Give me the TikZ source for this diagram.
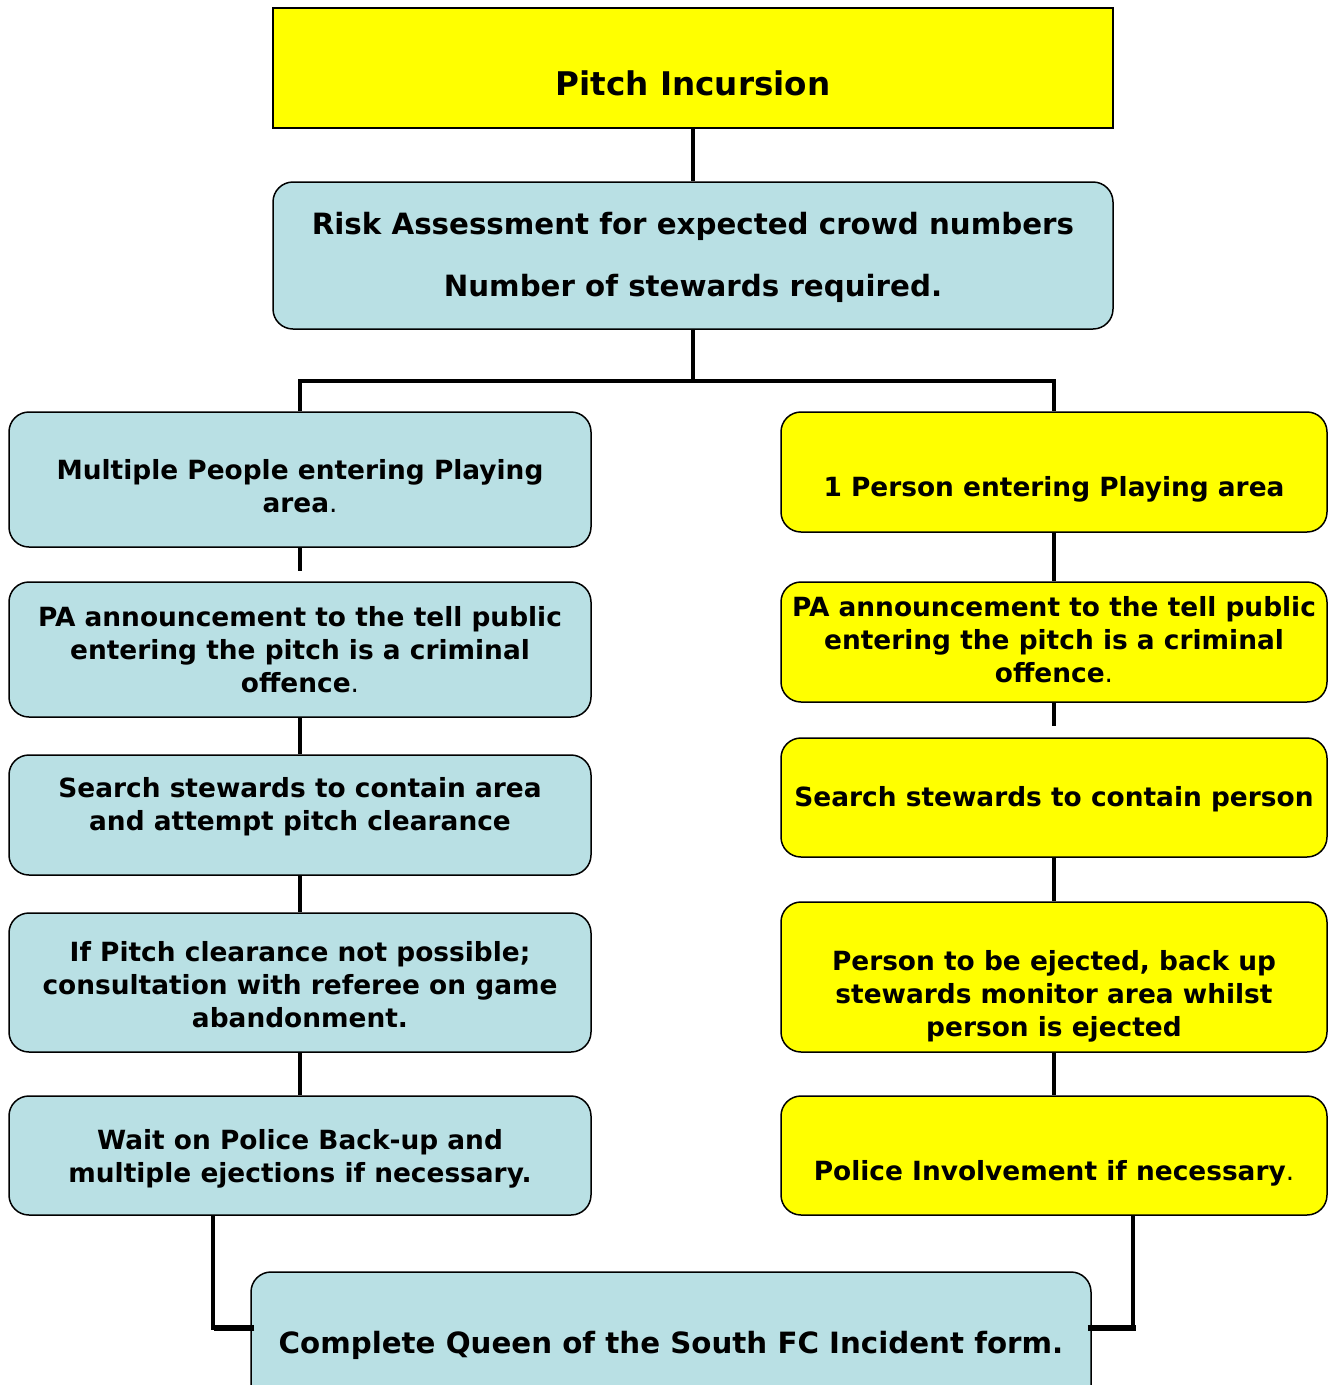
\documentclass[tikz,border=0pt]{standalone}
\usepackage{fontspec}
\setmainfont{DejaVu Sans}
\usetikzlibrary{calc}
\definecolor{paleblue}{RGB}{185,224,228}
\definecolor{brightyellow}{RGB}{255,255,0}
\tikzset{
  box/.style={draw=black, line width=1.5pt, rounded corners=20pt, inner sep=0pt},
  bluebox/.style={box, fill=paleblue},
  yellowbox/.style={box, fill=brightyellow},
  colbox/.style={minimum width=582pt},
  rcolbox/.style={minimum width=546pt},
  txt/.style={align=center, inner sep=0pt, font=\fontsize{26.4}{33}\selectfont\bfseries},
  bigtxt/.style={txt, font=\fontsize{29.3}{33}\selectfont\bfseries},
  titletxt/.style={txt, font=\fontsize{32.6}{38}\selectfont\bfseries},
  link/.style={draw=black, line width=4.5pt},
}
\newcommand{\dotn}{{\mdseries.}}
\begin{document}
\begin{tikzpicture}[x=1pt,y=-1pt]
\useasboundingbox (0,0) rectangle (1342,1385);

% header and risk assessment
\node[box, rounded corners=0pt, fill=brightyellow, minimum width=840pt, minimum height=120pt] (top) at (693,68) {};
\node[titletxt] (topt) at (693,83) {Pitch Incursion};
\node[bluebox, minimum width=840pt, minimum height=147pt] (risk) at (693,255.5) {};
\node[bigtxt] (riskt) at (693,257) {Risk Assessment for expected crowd numbers\\[29pt]Number of stewards required.};

% left column: multiple people
\node[bluebox, colbox, minimum height=135pt] (L1) at (300,479.5) {};
\node[txt] (L1t) at (300,486) {Multiple People entering Playing\\area\dotn};
\node[bluebox, colbox, minimum height=135pt] (L2) at (300,649.5) {};
\node[txt] (L2t) at (300,650) {PA announcement to the tell public\\entering the pitch is a criminal\\offence\dotn};
\node[bluebox, colbox, minimum height=120pt] (L3) at (300,815) {};
\node[txt] (L3t) at (300,807) {Search stewards to contain area\\and attempt pitch clearance};
\node[bluebox, colbox, minimum height=139pt] (L4) at (300,982.5) {};
\node[txt] (L4t) at (300,985) {If Pitch clearance not possible;\\consultation with referee on game\\abandonment.};
\node[bluebox, colbox, minimum height=119pt] (L5) at (300,1155.5) {};
\node[txt] (L5t) at (300,1159) {Wait on Police Back-up and\\multiple ejections if necessary.};

% right column: one person
\node[yellowbox, rcolbox, minimum height=120pt] (R1) at (1054,472) {};
\node[txt] (R1t) at (1054,489) {1 Person entering Playing area};
\node[yellowbox, rcolbox, minimum height=120pt] (R2) at (1054,642) {};
\node[txt] (R2t) at (1054,640) {PA announcement to the tell public\\entering the pitch is a criminal\\offence\dotn};
\node[yellowbox, rcolbox, minimum height=119pt] (R3) at (1054,797.5) {};
\node[txt] (R3t) at (1054,799) {Search stewards to contain person};
\node[yellowbox, rcolbox, minimum height=150pt] (R4) at (1054,977) {};
\node[txt] (R4t) at (1054,996) {Person to be ejected, back up\\stewards monitor area whilst\\person is ejected};
\node[yellowbox, rcolbox, minimum height=119pt] (R5) at (1054,1155.5) {};
\node[txt] (R5t) at (1054,1173) {Police Involvement if necessary\dotn};

% closing step
\node[bluebox, minimum width=840pt, minimum height=142pt] (form) at (671,1343) {};
\node[bigtxt] (formt) at (671,1345) {Complete Queen of the South FC Incident form.};

% connectors
\coordinate (split) at (693,381);
\draw[link, line width=4pt] (top.south) -- (risk.north);
\draw[link] (risk.south) -- (split);
\draw[link] (L1.north) |- (split) -| (R1.north);

\coordinate (Lstub) at ($(L1.south)+(0,23)$);
\draw[link] (L1.south) -- (Lstub);
\draw[link] (L2.south) -- (L3.north);
\draw[link] (L3.south) -- (L4.north);
\draw[link] (L4.south) -- (L5.north);

\draw[link] (R1.south) -- (R2.north);
\coordinate (Rstub) at ($(R2.south)+(0,23)$);
\draw[link] (R2.south) -- (Rstub);
\draw[link] (R3.south) -- (R4.north);
\draw[link] (R4.south) -- (R5.north);

\coordinate (Lin) at ($(form.west)+(4,-15)$);
\coordinate (Rin) at ($(form.east)+(-4,-15)$);
\draw[link, line width=4pt] ([xshift=-87pt]L5.south) |- (Lin);
\draw[link, line width=4pt] ([xshift=79pt]R5.south) |- (Rin);
\draw[link, line width=6pt] (Lin) -- ++(-40,0);
\draw[link, line width=6pt] (Rin) -- ++(48,0);
\end{tikzpicture}
\end{document}
